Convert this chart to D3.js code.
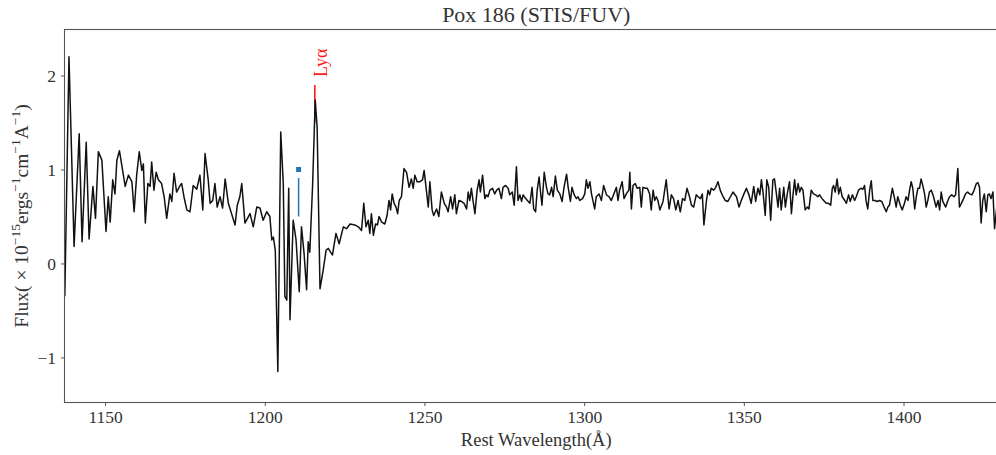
<!DOCTYPE html>
<html>
<head>
<meta charset="utf-8">
<script src="https://cdn.jsdelivr.net/npm/d3@7"></script>
<style>
  body { margin: 0; background: #fff; }
  svg { display: block; }
  text { font-family: "Liberation Serif", "DejaVu Serif", serif; fill: #333; }
</style>
</head>
<body>
<svg id="chart" width="996" height="455"></svg>
<script>
// Pox 186, STIS/FUV spectrum: [rest wavelength (Å), flux (1e-15 erg s^-1 cm^-2 Å^-1)]
const spectrum = [
  [1137.4,-0.35],[1138.7,2.20],[1140.3,0.18],[1141.9,1.38],[1142.8,0.23],[1144.1,1.29],[1145.0,0.26],[1146.2,0.82],
  [1147.0,0.48],[1147.9,1.19],[1149.0,1.10],[1150.3,0.34],[1151.0,0.71],[1151.6,0.44],[1152.4,0.89],[1153.1,0.74],
  [1153.7,1.10],[1154.5,1.20],[1155.5,0.99],[1156.3,0.82],[1157.3,0.94],[1158.4,0.87],[1159.1,0.55],[1159.9,0.94],
  [1160.7,1.19],[1161.5,0.99],[1162.0,1.06],[1162.6,0.43],[1163.4,0.85],[1164.1,0.82],[1164.6,1.08],[1165.3,0.78],
  [1166.0,0.97],[1166.7,0.89],[1167.7,0.85],[1168.5,0.71],[1169.3,0.48],[1170.3,0.74],[1170.9,0.66],[1171.6,0.96],
  [1172.4,0.76],[1173.5,0.83],[1174.0,0.85],[1174.7,0.71],[1175.6,0.57],[1176.6,0.55],[1177.6,0.83],[1178.7,0.79],
  [1179.7,0.94],[1180.6,0.57],[1181.3,1.17],[1182.3,0.89],[1182.9,0.64],[1183.7,0.67],[1184.4,0.85],[1185.1,0.60],
  [1186.0,0.71],[1186.8,0.59],[1187.6,0.90],[1188.6,0.64],[1189.6,0.53],[1190.7,0.41],[1191.4,0.62],[1192.2,0.71],
  [1192.8,0.85],[1193.8,0.43],[1195.4,0.53],[1196.4,0.39],[1197.5,0.60],[1198.5,0.59],[1199.5,0.46],[1200.6,0.55],
  [1201.6,0.50],[1202.2,0.25],[1202.7,0.28],[1203.3,0.14],[1204.1,-1.15],[1205.0,1.40],[1205.8,0.85],[1206.3,-0.35],
  [1206.9,-0.39],[1207.5,0.80],[1207.9,-0.60],[1208.9,0.46],[1209.8,0.25],[1210.8,-0.30],[1211.5,0.39],[1212.3,0.11],
  [1213.1,-0.28],[1213.6,0.23],[1214.1,0.12],[1215.0,0.85],[1215.8,1.74],[1216.4,1.45],[1217.3,-0.27],[1218.3,-0.07],
  [1219.2,0.14],[1219.9,0.16],[1220.6,0.12],[1221.2,0.09],[1222.3,0.32],[1223.3,0.21],[1224.6,0.39],[1225.6,0.37],
  [1226.7,0.42],[1228.2,0.41],[1229.3,0.39],[1230.3,0.35],[1231.0,0.64],[1231.7,0.39],[1232.4,0.46],[1232.9,0.32],
  [1233.4,0.53],[1234.0,0.30],[1234.7,0.42],[1235.3,0.41],[1235.8,0.50],[1236.6,0.44],[1237.6,0.42],[1238.3,0.51],
  [1238.9,0.67],[1239.4,0.57],[1239.9,0.74],[1240.5,0.64],[1241.1,0.60],[1241.6,0.53],[1242.1,0.67],[1242.8,0.71],
  [1243.6,1.01],[1244.4,0.97],[1245.2,0.81],[1245.9,0.90],[1246.5,0.80],[1247.0,0.94],[1247.7,0.87],[1248.6,0.87],
  [1249.4,0.89],[1249.9,0.99],[1250.6,0.78],[1251.2,0.60],[1251.7,0.87],[1252.4,0.57],[1252.9,0.51],[1253.8,0.58],
  [1254.5,0.50],[1255.3,0.76],[1256.2,0.64],[1256.9,0.60],[1257.4,0.55],[1258.2,0.71],[1258.8,0.58],[1259.5,0.73],
  [1260.0,0.53],[1260.8,0.67],[1261.6,0.66],[1262.4,0.64],[1263.2,0.58],[1263.7,0.76],[1264.2,0.67],[1264.7,0.80],
  [1265.2,0.67],[1265.8,0.53],[1266.5,0.78],[1267.1,0.89],[1267.5,0.76],[1268.2,0.94],[1268.9,0.69],[1269.4,0.73],
  [1269.9,0.71],[1270.5,0.78],[1271.3,0.80],[1272.0,0.74],[1272.6,0.78],[1273.3,0.80],[1274.1,0.69],[1274.6,0.81],
  [1275.4,0.83],[1276.2,0.80],[1276.7,0.73],[1277.5,0.76],[1278.1,0.62],[1278.8,1.03],[1279.3,0.67],[1279.9,0.73],
  [1280.4,0.66],[1280.9,0.73],[1281.7,0.69],[1282.5,0.66],[1283.0,0.64],[1283.7,0.81],[1284.2,0.58],[1284.8,0.55],
  [1285.3,0.78],[1285.9,0.92],[1286.4,0.74],[1286.8,0.62],[1287.5,0.97],[1288.2,0.81],[1288.7,0.74],[1289.2,0.73],
  [1289.8,0.81],[1290.3,0.71],[1291.0,0.93],[1291.6,0.78],[1292.4,0.74],[1293.1,0.66],[1293.7,0.81],[1294.5,0.95],
  [1295.0,0.81],[1295.7,0.66],[1296.2,0.81],[1296.9,0.73],[1297.6,0.69],[1298.1,0.71],[1298.6,0.67],[1299.5,0.69],
  [1300.2,0.74],[1300.7,0.89],[1301.2,0.80],[1301.8,0.87],[1302.3,0.74],[1302.8,0.66],[1303.3,0.58],[1303.8,0.71],
  [1304.7,0.74],[1305.4,0.67],[1306.1,0.83],[1307.0,0.73],[1307.8,0.71],[1308.5,0.67],[1309.3,0.74],[1310.1,0.81],
  [1310.6,0.67],[1311.1,0.78],[1311.9,0.87],[1312.5,0.69],[1313.2,0.74],[1314.0,0.78],[1314.3,0.97],[1314.8,0.58],
  [1315.3,0.83],[1316.0,0.85],[1316.6,0.80],[1317.4,0.81],[1317.9,0.60],[1318.4,0.81],[1319.2,0.80],[1319.8,0.80],
  [1320.5,0.74],[1321.0,0.57],[1321.6,0.78],[1322.1,0.67],[1322.6,0.71],[1323.1,0.67],[1323.7,0.57],[1324.7,0.66],
  [1325.7,0.89],[1326.6,0.58],[1327.3,0.73],[1328.0,0.69],[1328.7,0.57],[1329.4,0.67],[1330.1,0.55],[1330.8,0.69],
  [1331.5,0.67],[1332.2,0.80],[1333.0,0.71],[1333.6,0.62],[1334.3,0.60],[1335.1,0.73],[1335.7,0.71],[1336.4,0.69],
  [1337.0,0.74],[1337.5,0.41],[1338.3,0.67],[1338.8,0.78],[1339.3,0.73],[1339.8,0.80],[1340.6,0.78],[1341.2,0.81],
  [1341.9,0.87],[1342.6,0.78],[1343.5,0.71],[1344.2,0.67],[1345.0,0.66],[1345.8,0.71],[1346.6,0.76],[1347.7,0.71],
  [1348.5,0.60],[1349.2,0.67],[1349.9,0.73],[1350.8,0.80],[1351.6,0.73],[1352.3,0.64],[1353.1,0.82],[1353.7,0.66],
  [1354.4,0.80],[1355.0,0.73],[1355.5,0.89],[1356.0,0.76],[1356.7,0.51],[1357.2,0.89],[1357.8,0.81],[1358.4,0.46],
  [1359.1,0.89],[1359.6,0.90],[1360.2,0.74],[1360.7,0.60],[1361.2,0.80],[1361.7,0.57],[1362.5,0.81],[1363.0,0.60],
  [1363.6,0.74],[1364.3,0.87],[1364.9,0.53],[1365.4,0.73],[1365.9,0.89],[1366.4,0.73],[1367.0,0.85],[1367.5,0.76],
  [1368.0,0.81],[1368.5,0.78],[1369.2,0.57],[1369.9,0.60],[1370.4,0.58],[1371.1,0.78],[1371.8,0.74],[1372.5,0.73],
  [1373.2,0.71],[1373.7,0.73],[1374.5,0.69],[1375.0,0.67],[1375.8,0.64],[1376.5,0.64],[1377.2,0.62],[1377.7,0.80],
  [1378.1,0.83],[1378.6,0.76],[1379.2,0.90],[1379.7,0.74],[1380.2,0.81],[1380.8,0.71],[1381.6,0.67],[1382.1,0.64],
  [1382.8,0.73],[1383.3,0.66],[1384.0,0.73],[1384.7,0.67],[1385.2,0.71],[1385.9,0.78],[1386.6,0.80],[1387.3,0.79],
  [1387.8,0.83],[1388.3,0.66],[1388.8,0.58],[1389.4,0.78],[1389.9,0.88],[1390.4,0.67],[1391.1,0.67],[1391.8,0.66],
  [1392.5,0.67],[1393.2,0.66],[1393.9,0.60],[1394.6,0.55],[1395.1,0.60],[1395.6,0.62],[1396.5,0.80],[1397.2,0.69],
  [1397.7,0.60],[1398.2,0.71],[1399.0,0.62],[1399.6,0.57],[1400.3,0.64],[1400.8,0.71],[1401.4,0.67],[1401.9,0.78],
  [1402.4,0.87],[1402.9,0.80],[1403.5,0.58],[1404.0,0.71],[1404.5,0.80],[1405.0,0.80],[1405.5,0.90],[1406.1,0.82],
  [1406.6,0.74],[1407.1,0.60],[1407.6,0.67],[1408.1,0.76],[1408.7,0.78],[1409.4,0.71],[1410.2,0.60],[1410.8,0.67],
  [1411.3,0.57],[1411.8,0.76],[1412.3,0.66],[1413.2,0.60],[1413.9,0.67],[1414.4,0.71],[1415.1,0.73],[1415.8,0.71],
  [1416.3,0.73],[1417.0,1.01],[1417.5,0.60],[1418.1,0.64],[1418.8,0.69],[1419.4,0.74],[1420.1,0.76],[1420.7,0.74],
  [1421.4,0.73],[1422.0,0.77],[1422.8,0.85],[1423.3,0.86],[1423.8,0.81],[1424.3,0.43],[1424.8,0.67],[1425.3,0.74],
  [1425.9,0.55],[1426.4,0.73],[1426.9,0.74],[1427.4,0.69],[1428.0,0.76],[1428.5,0.37],[1429.2,0.60]
];

const xTicks = [1150, 1200, 1250, 1300, 1350, 1400];
const yTicks = [-1, 0, 1, 2];
const xDomain = [1137.3, 1430.3];
const yDomain = [-1.48, 2.49];

// Lyman-alpha marker and the blue feature marker
const lyaWave = 1215.67;
const lyaSpan = [1.5, 1.9];
const featureWave = 1210.6;
const featureSpan = [0.5, 0.91];
const featurePoint = 1.0;

const titleText = "Pox 186 (STIS/FUV)";
const xLabelText = "Rest Wavelength(Å)";

const svg = d3.select("#chart");
svg.append("rect").attr("width", 996).attr("height", 455).attr("fill", "#fff");

const plot = { left: 64.5, right: 1000.3, top: 29.5, bottom: 402.5 };
const centerX = (plot.left + 1008) / 2;

const x = d3.scaleLinear().domain(xDomain).range([plot.left, plot.right]);
const y = d3.scaleLinear().domain(yDomain).range([plot.bottom, plot.top]);

const clipId = "plot-clip";
svg.append("clipPath").attr("id", clipId)
  .append("rect")
  .attr("x", plot.left).attr("y", plot.top)
  .attr("width", plot.right - plot.left).attr("height", plot.bottom - plot.top);

const g = svg.append("g").attr("clip-path", `url(#${clipId})`);

// Lyα marker (drawn beneath the spectrum)
g.append("line")
  .attr("x1", x(lyaWave)).attr("x2", x(lyaWave))
  .attr("y1", y(lyaSpan[0])).attr("y2", y(lyaSpan[1]))
  .attr("stroke", "#ff1a1a").attr("stroke-width", 1.6);

// Spectrum
const line = d3.line().x(d => x(d[0])).y(d => y(d[1]));
g.append("path")
  .datum(spectrum)
  .attr("d", line)
  .attr("fill", "none")
  .attr("stroke", "#111")
  .attr("stroke-width", 1.5)
  .attr("stroke-linejoin", "round");

// Blue feature marker
g.append("line")
  .attr("x1", x(featureWave)).attr("x2", x(featureWave))
  .attr("y1", y(featureSpan[0])).attr("y2", y(featureSpan[1]))
  .attr("stroke", "#1f77b4").attr("stroke-width", 1.5);
g.append("rect")
  .attr("x", x(featureWave) - 2.5).attr("y", y(featurePoint) - 2.5)
  .attr("width", 5).attr("height", 5)
  .attr("fill", "#1f77b4");

// Axes
const axisColor = "#555";
const xAxis = d3.axisBottom(x).tickValues(xTicks).tickSize(3.5).tickPadding(5).tickFormat(d3.format("d"));
const yAxis = d3.axisLeft(y).tickValues(yTicks).tickSize(3.5).tickPadding(5)
  .tickFormat(d => d < 0 ? "\u2212" + Math.abs(d) : String(d));

const gx = svg.append("g").attr("transform", `translate(0,${plot.bottom})`).call(xAxis);
const gy = svg.append("g").attr("transform", `translate(${plot.left},0)`).call(yAxis);
[gx, gy].forEach(a => {
  a.select(".domain").remove();
  a.selectAll(".tick line").attr("stroke", axisColor).attr("stroke-width", 1);
  a.selectAll(".tick text").attr("fill", "#333").style("font-size", "17.5px")
    .style("font-family", '"Liberation Serif", "DejaVu Serif", serif');
});

// Frame (right edge runs past the canvas)
svg.append("rect")
  .attr("x", plot.left).attr("y", plot.top)
  .attr("width", plot.right - plot.left).attr("height", plot.bottom - plot.top)
  .attr("fill", "none").attr("stroke", axisColor).attr("stroke-width", 1.1);

// Title
svg.append("text")
  .attr("x", centerX).attr("y", 22)
  .attr("text-anchor", "middle")
  .style("font-size", "22px")
  .text(titleText);

// X label
svg.append("text")
  .attr("x", centerX).attr("y", 446)
  .attr("text-anchor", "middle")
  .style("font-size", "18.5px")
  .text(xLabelText);

// Y label with superscripts
const yl = svg.append("text")
  .attr("transform", `translate(28,${(plot.top + plot.bottom) / 2}) rotate(-90)`)
  .attr("text-anchor", "middle")
  .style("font-size", "19.5px");
yl.append("tspan").text("Flux( \u00d7 10");
yl.append("tspan").attr("dy", -8).style("font-size", "13.5px").text("\u221215");
yl.append("tspan").attr("dy", 8).text("ergs");
yl.append("tspan").attr("dy", -8).style("font-size", "13.5px").text("\u22121");
yl.append("tspan").attr("dy", 8).text("cm");
yl.append("tspan").attr("dy", -8).style("font-size", "13.5px").text("\u22121");
yl.append("tspan").attr("dy", 8).text("A");
yl.append("tspan").attr("dy", -8).style("font-size", "13.5px").text("\u22121");
yl.append("tspan").attr("dy", 8).text(")");

// Lyα label
svg.append("text")
  .attr("transform", `translate(${x(lyaWave) + 12},${y(lyaSpan[1]) - 8}) rotate(-90)`)
  .attr("text-anchor", "start")
  .style("font-size", "18px")
  .style("fill", "#ff1a1a")
  .text("Ly\u03b1");
</script>
</body>
</html>
